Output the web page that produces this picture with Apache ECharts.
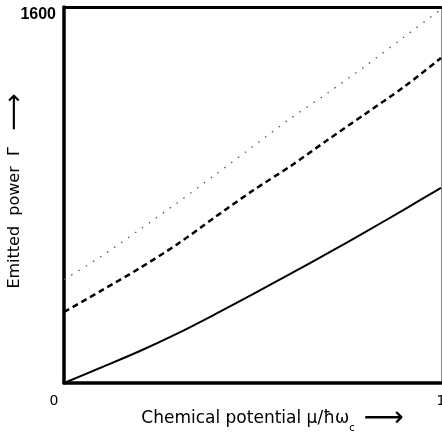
<!DOCTYPE html>
<html>
<head>
<meta charset="utf-8">
<script src="https://cdn.jsdelivr.net/npm/echarts@6/dist/echarts.min.js"></script>
<style>
html,body{margin:0;padding:0;background:#fff;}
#chart{width:442px;height:441px;}
</style>
</head>
<body>
<div id="chart"></div>
<script>
// Chemical potential mu / (hbar omega_c)
const mu = [0, 0.1, 0.2, 0.3, 0.4, 0.5, 0.6, 0.7, 0.8, 0.9, 1.0];
// Emitted power Gamma
const solidVals  = [0, 67, 135, 210, 292, 377, 464, 553, 643, 736, 830];
const dashedVals = [302, 394, 488, 590, 705, 818, 922, 1035, 1146, 1258, 1383];
const dottedVals = [440, 540, 652, 766, 885, 1005, 1125, 1235, 1350, 1470, 1590];
const xTicks = ['0', '1'];
const yTicks = ['1600'];

const pairs = v => mu.map((m, i) => [m, v[i]]);

const chart = echarts.init(document.getElementById('chart'));
const titleFont = 'DejaVu Sans';
chart.setOption({
  animation: false,
  backgroundColor: '#fff',
  grid: { left: 64, right: 1, top: 7, bottom: 58, containLabel: false, outerBoundsMode: 'none' },
  xAxis: [{
    type: 'value', min: 0, max: 1, interval: 1, position: 'bottom',
    axisLine: { show: true, lineStyle: { color: '#000', width: 3.5 } },
    axisTick: { show: false }, splitLine: { show: false },
    axisLabel: {
      margin: 11, color: '#000', fontFamily: titleFont, fontSize: 14,
      formatter: v => v === 0 ? '{z|' + xTicks[0] + '}' : '{o|' + xTicks[1] + '}',
      rich: { z: { padding: [0, 20, 0, 0], fontFamily: titleFont, fontSize: 14, color: '#000' },
              o: { padding: [0, 0, 0, 0], fontFamily: titleFont, fontSize: 14, color: '#000' } }
    },
    name: '{t|Chemical potential μ/ħω}{s|c}{a| ⟶}',
    nameLocation: 'middle', nameGap: 22, nameMoveOverlap: false,
    nameTextStyle: {
      padding: [0, 0, 0, 40],
      rich: {
        t: { fontFamily: titleFont, fontSize: 17, color: '#000' },
        s: { fontFamily: titleFont, fontSize: 10, color: '#000', verticalAlign: 'bottom', padding: [4, 0, 0, 0] },
        a: { fontFamily: titleFont, fontSize: 28, color: '#000' }
      }
    }
  }, {
    type: 'value', min: 0, max: 1, interval: 1, position: 'top',
    axisLine: { show: true, onZero: false, lineStyle: { color: '#000', width: 3 } },
    axisTick: { show: false }, axisLabel: { show: false }, splitLine: { show: false }
  }],
  yAxis: [{
    type: 'value', min: 0, max: 1600, interval: 1600, position: 'left',
    axisLine: { show: true, lineStyle: { color: '#000', width: 3.5 } },
    axisTick: { show: false }, splitLine: { show: false },
    axisLabel: {
      margin: 8, color: '#000', fontFamily: 'Liberation Sans', fontWeight: 'bold', fontSize: 16,
      verticalAlign: 'top',
      formatter: v => v === 1600 ? yTicks[0] : ''
    },
    name: '{t|Emitted  power  Γ}{a|  ⟶}',
    nameLocation: 'middle', nameGap: 36, nameMoveOverlap: false,
    nameTextStyle: {
      padding: [0, 0, 0, 8],
      rich: {
        t: { fontFamily: titleFont, fontSize: 16, color: '#000' },
        a: { fontFamily: titleFont, fontSize: 26, color: '#000' }
      }
    }
  }, {
    type: 'value', min: 0, max: 1600, interval: 1600, position: 'right',
    axisLine: { show: true, onZero: false, lineStyle: { color: '#888', width: 1 } },
    axisTick: { show: false }, axisLabel: { show: false }, splitLine: { show: false }
  }],
  series: [
    { type: 'line', data: pairs(solidVals), smooth: 0.3, showSymbol: false,
      lineStyle: { color: '#000', width: 2 } },
    { type: 'line', data: pairs(dashedVals), smooth: 0.3, showSymbol: false,
      lineStyle: { color: '#000', width: 2.5, type: [6, 4] } },
    { type: 'line', data: pairs(dottedVals), smooth: 0.3, showSymbol: false,
      lineStyle: { color: '#555', width: 1.3, type: [1.5, 7] } }
  ]
});
</script>
</body>
</html>
